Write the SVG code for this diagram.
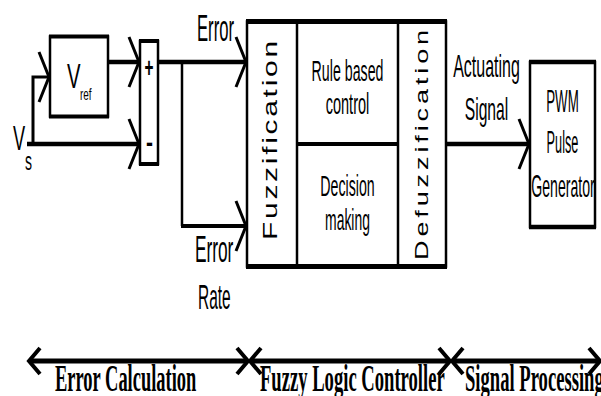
<svg xmlns="http://www.w3.org/2000/svg" width="601" height="396" viewBox="0 0 601 396">
<style>
.ln{stroke:#000;fill:none;stroke-linecap:butt}
.box{fill:#fff;stroke:#000;stroke-width:2.5}
.sans{font-family:"Liberation Sans",Arial,sans-serif;fill:#000}
.mid{text-anchor:middle}
.serif{font-family:"Liberation Serif","Times New Roman",serif;font-weight:bold;fill:#000;font-size:38px}
</style>
<defs>
<marker id="ah" markerUnits="userSpaceOnUse" viewBox="-14 -30 18 60" markerWidth="18" markerHeight="60" refX="0" refY="0" orient="auto" overflow="visible">
<path d="M-10,-25 L0,0 L-10,25" fill="none" stroke="#000" stroke-width="3"/>
</marker>
<marker id="ah2" markerUnits="userSpaceOnUse" viewBox="-14 -16 18 32" markerWidth="18" markerHeight="32" refX="0" refY="0" orient="auto-start-reverse" overflow="visible">
<path d="M-11,-13 L0,0 L-11,13" fill="none" stroke="#000" stroke-width="4"/>
</marker>
</defs>
<rect width="601" height="396" fill="#fff"/>

<g id="connectors">
<line class="ln" x1="27" y1="144" x2="139" y2="144" stroke-width="4.5" marker-end="url(#ah)"/>
<polyline class="ln" points="33,144 33,77 49,77" stroke-width="3" marker-end="url(#ah)"/>
<line class="ln" x1="108" y1="62" x2="139" y2="62" stroke-width="4.5" marker-end="url(#ah)"/>
<line class="ln" x1="158" y1="62" x2="246" y2="62" stroke-width="4.5" marker-end="url(#ah)"/>
<line class="ln" x1="182" y1="62" x2="182" y2="226" stroke-width="2.5"/>
<line class="ln" x1="181" y1="226" x2="246" y2="226" stroke-width="4" marker-end="url(#ah)"/>
<line class="ln" x1="446" y1="144" x2="529" y2="144" stroke-width="4.5" marker-end="url(#ah)"/>
</g>

<g id="vs">
<text class="sans" transform="translate(13,150) scale(0.52,1)" font-size="35">V</text>
<text class="sans" transform="translate(25,170) scale(0.56,1)" font-size="25">s</text>
</g>

<g id="vref">
<rect class="box" x="50" y="36.5" width="58" height="80" stroke-width="2"/>
<line class="ln" x1="49" y1="36.5" x2="109" y2="36.5" stroke-width="4"/>
<line class="ln" x1="49" y1="116.5" x2="109" y2="116.5" stroke-width="4"/>
<text class="sans" transform="translate(67,88) scale(0.58,1)" font-size="35">V</text>
<text class="sans" transform="translate(80,100) scale(0.62,1)" font-size="16">ref</text>
</g>

<g id="summer">
<rect class="box" x="140" y="41" width="18" height="123"/>
<line class="ln" x1="139" y1="41" x2="159" y2="41" stroke-width="4"/>
<line class="ln" x1="139" y1="164" x2="159" y2="164" stroke-width="4"/>
<text class="sans mid" transform="translate(149,77) scale(0.55,1)" font-size="28" font-weight="bold">+</text>
<text class="sans mid" transform="translate(149.5,152) scale(0.75,1)" font-size="28" font-weight="bold">-</text>
</g>

<g id="error-labels">
<text class="sans" transform="translate(197,41) scale(0.45,1)" font-size="37">Error</text>
<text class="sans" transform="translate(195,262) scale(0.48,1)" font-size="36">Error</text>
<text class="sans" transform="translate(198,309) scale(0.43,1)" font-size="36">Rate</text>
</g>

<g id="flc">
<rect class="box" x="247" y="21.5" width="199" height="245"/>
<line class="ln" x1="246" y1="21.5" x2="447" y2="21.5" stroke-width="5"/>
<line class="ln" x1="246" y1="266.5" x2="447" y2="266.5" stroke-width="5"/>
<line class="ln" x1="297" y1="21" x2="297" y2="267" stroke-width="2.5"/>
<line class="ln" x1="398" y1="21" x2="398" y2="267" stroke-width="2.5"/>
<line class="ln" x1="297" y1="144" x2="398" y2="144" stroke-width="4"/>
<text class="sans" transform="translate(277,240) rotate(-90) scale(1.5,1)" font-size="20" letter-spacing="1.8">Fuzzification</text>
<text class="sans" transform="translate(428,260) rotate(-90) scale(1.5,1)" font-size="18" letter-spacing="2.6">Defuzzification</text>
<text class="sans mid" transform="translate(347.5,81) scale(0.49,1)" font-size="29">Rule based</text>
<text class="sans mid" transform="translate(347.5,114) scale(0.5,1)" font-size="29">control</text>
<text class="sans mid" transform="translate(347.5,196) scale(0.49,1)" font-size="29">Decision</text>
<text class="sans mid" transform="translate(347.5,230) scale(0.48,1)" font-size="29">making</text>
</g>

<g id="actuating-label">
<text class="sans mid" transform="translate(486.5,77) scale(0.5,1)" font-size="32">Actuating</text>
<text class="sans mid" transform="translate(486.5,120) scale(0.49,1)" font-size="32">Signal</text>
</g>

<g id="pwm">
<rect class="box" x="530" y="62" width="65" height="165"/>
<line class="ln" x1="529" y1="62" x2="596" y2="62" stroke-width="4.5"/>
<line class="ln" x1="529" y1="227" x2="596" y2="227" stroke-width="4.5"/>
<text class="sans mid" transform="translate(562.5,112) scale(0.43,1)" font-size="31">PWM</text>
<text class="sans mid" transform="translate(562.5,153) scale(0.41,1)" font-size="31">Pulse</text>
<text class="sans mid" transform="translate(563,197) scale(0.455,1)" font-size="31">Generator</text>
</g>

<g id="stages">
<line class="ln" x1="29" y1="361" x2="248" y2="361" stroke-width="5" marker-start="url(#ah2)" marker-end="url(#ah2)"/>
<line class="ln" x1="250" y1="361" x2="450" y2="361" stroke-width="5" marker-start="url(#ah2)" marker-end="url(#ah2)"/>
<line class="ln" x1="452" y1="361" x2="600" y2="361" stroke-width="5" marker-start="url(#ah2)" marker-end="url(#ah2)"/>
<text class="serif" transform="translate(55,391) scale(0.486,1)">Error Calculation</text>
<text class="serif" transform="translate(260,391) scale(0.49,1)">Fuzzy Logic Controller</text>
<text class="serif" transform="translate(465,391) scale(0.49,1)">Signal Processing</text>
</g>
</svg>
